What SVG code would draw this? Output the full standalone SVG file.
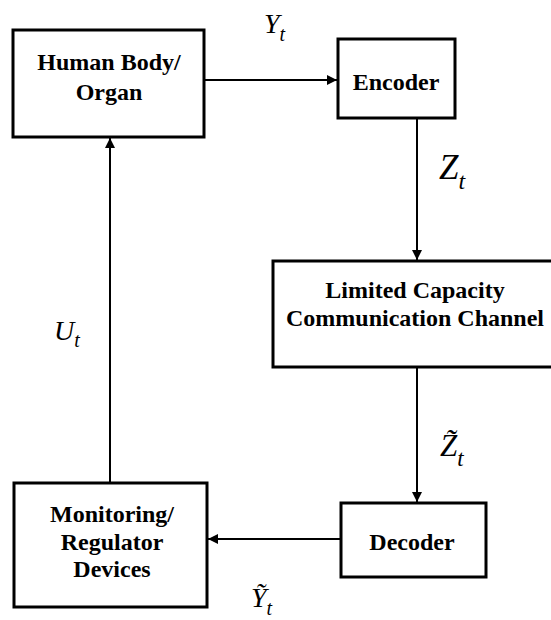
<svg xmlns="http://www.w3.org/2000/svg" width="551" height="620" viewBox="0 0 551 620">
<style>
.box{fill:#fff;stroke:#000;stroke-width:3}
.lbl{font-family:"Liberation Serif","DejaVu Serif",serif;font-weight:bold;font-size:24px;fill:#000;text-anchor:middle}
.var{font-family:"Liberation Serif","DejaVu Serif",serif;font-style:italic;fill:#000}
.conn{stroke:#000;stroke-width:2;fill:none}
</style>
<defs>
<marker id="ah" viewBox="0 0 10 10" refX="10" refY="5" markerWidth="10" markerHeight="10" markerUnits="userSpaceOnUse" orient="auto">
<path d="M0,0 L10,5 L0,10 z" fill="#000"/>
</marker>
</defs>
<rect width="551" height="620" fill="#fff"/>
<g id="connectors">
<line class="conn" x1="204" y1="80" x2="337" y2="80" marker-end="url(#ah)"/>
<line class="conn" x1="417" y1="118" x2="417" y2="260" marker-end="url(#ah)"/>
<line class="conn" x1="417" y1="367" x2="417" y2="502" marker-end="url(#ah)"/>
<line class="conn" x1="341" y1="539" x2="208" y2="539" marker-end="url(#ah)"/>
<line class="conn" x1="110" y1="483" x2="110" y2="138" marker-end="url(#ah)"/>
<text class="var" x="264" y="33" font-size="28">Y<tspan font-size="20" dy="8">t</tspan></text>
<text class="var" x="439" y="179" font-size="35">Z<tspan font-size="24" dy="10">t</tspan></text>
<text class="var" x="440" y="456" font-size="31">Z&#x303;<tspan font-size="23" dy="10">t</tspan></text>
<text class="var" x="54" y="340" font-size="28">U<tspan font-size="20" dy="7">t</tspan></text>
<text class="var" x="251" y="607" font-size="28">Y&#x303;<tspan font-size="20" dy="8">t</tspan></text>
</g>
<g id="human-body">
<rect class="box" x="13" y="30" width="191" height="107"/>
<text class="lbl" x="109" y="70">Human Body/</text>
<text class="lbl" x="109" y="100">Organ</text>
</g>
<g id="encoder">
<rect class="box" x="338" y="39" width="117" height="79"/>
<text class="lbl" x="396" y="90">Encoder</text>
</g>
<g id="channel">
<rect class="box" x="273" y="261" width="282" height="106"/>
<text class="lbl" x="415" y="298">Limited Capacity</text>
<text class="lbl" x="415" y="326">Communication Channel</text>
</g>
<g id="decoder">
<rect class="box" x="341" y="503" width="145" height="74"/>
<text class="lbl" x="412" y="550">Decoder</text>
</g>
<g id="monitoring">
<rect class="box" x="14" y="483" width="193" height="124"/>
<text class="lbl" x="112" y="522">Monitoring/</text>
<text class="lbl" x="112" y="550">Regulator</text>
<text class="lbl" x="112" y="577">Devices</text>
</g>
</svg>
